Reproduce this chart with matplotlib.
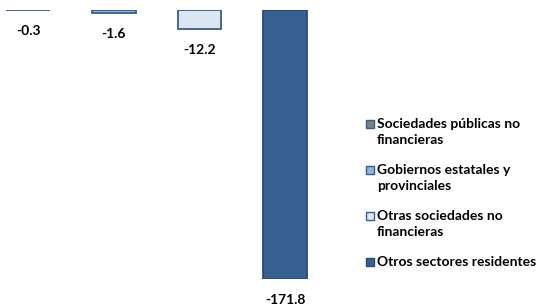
import matplotlib.pyplot as plt
from matplotlib.patches import Rectangle

# Datos
categorias = ['Sociedades públicas no\nfinancieras',
              'Gobiernos estatales y\nprovinciales',
              'Otras sociedades no\nfinancieras',
              'Otros sectores residentes']
valores = [-0.3, -1.6, -12.2, -171.8]
etiquetas = ['-0.3', '-1.6', '-12.2', '-171.8']

colores = ['#7F7F7F', '#95B3D7', '#DCE6F2', '#376092']
bordes = ['#385D8A', '#385D8A', '#385D8A', '#2A4A73']

plt.rcParams['font.family'] = ['Lato', 'DejaVu Sans']

W, H = 536, 305
fig = plt.figure(figsize=(W / 100, H / 100), dpi=100)
ax = fig.add_axes([0, 26 / H, 1, 269 / H])

pos = list(range(len(valores)))
for i, v in enumerate(valores):
    ax.bar(pos[i], v, width=0.51, color=colores[i] if i != 0 else '#4F6A8A',
           edgecolor=bordes[i], linewidth=1.3)
    ax.annotate(etiquetas[i], (pos[i], v), xytext=(0, -21),
                textcoords='offset pixels',
                ha='center', va='center', fontsize=10, fontweight='bold',
                annotation_clip=False)

ax.set_xlim(-28 / 85.7, (W - 28) / 85.7)
ax.set_ylim(-171.8, 0)
ax.axis('off')

# leyenda dibujada a mano (cuadro alineado con la primera línea)
for i, cat in enumerate(categorias):
    yc = 124 + 46 * i
    fig.add_artist(Rectangle((366 / W, 1 - (yc + 4) / H), 8 / W, 8 / H,
                             facecolor=colores[i], edgecolor=bordes[i],
                             linewidth=1, transform=fig.transFigure))
    fig.text(377 / W, 1 - (yc - 6) / H, cat, ha='left', va='top',
             fontsize=10, fontweight='bold', linespacing=1.4)

fig.savefig('out.png', dpi=100)
